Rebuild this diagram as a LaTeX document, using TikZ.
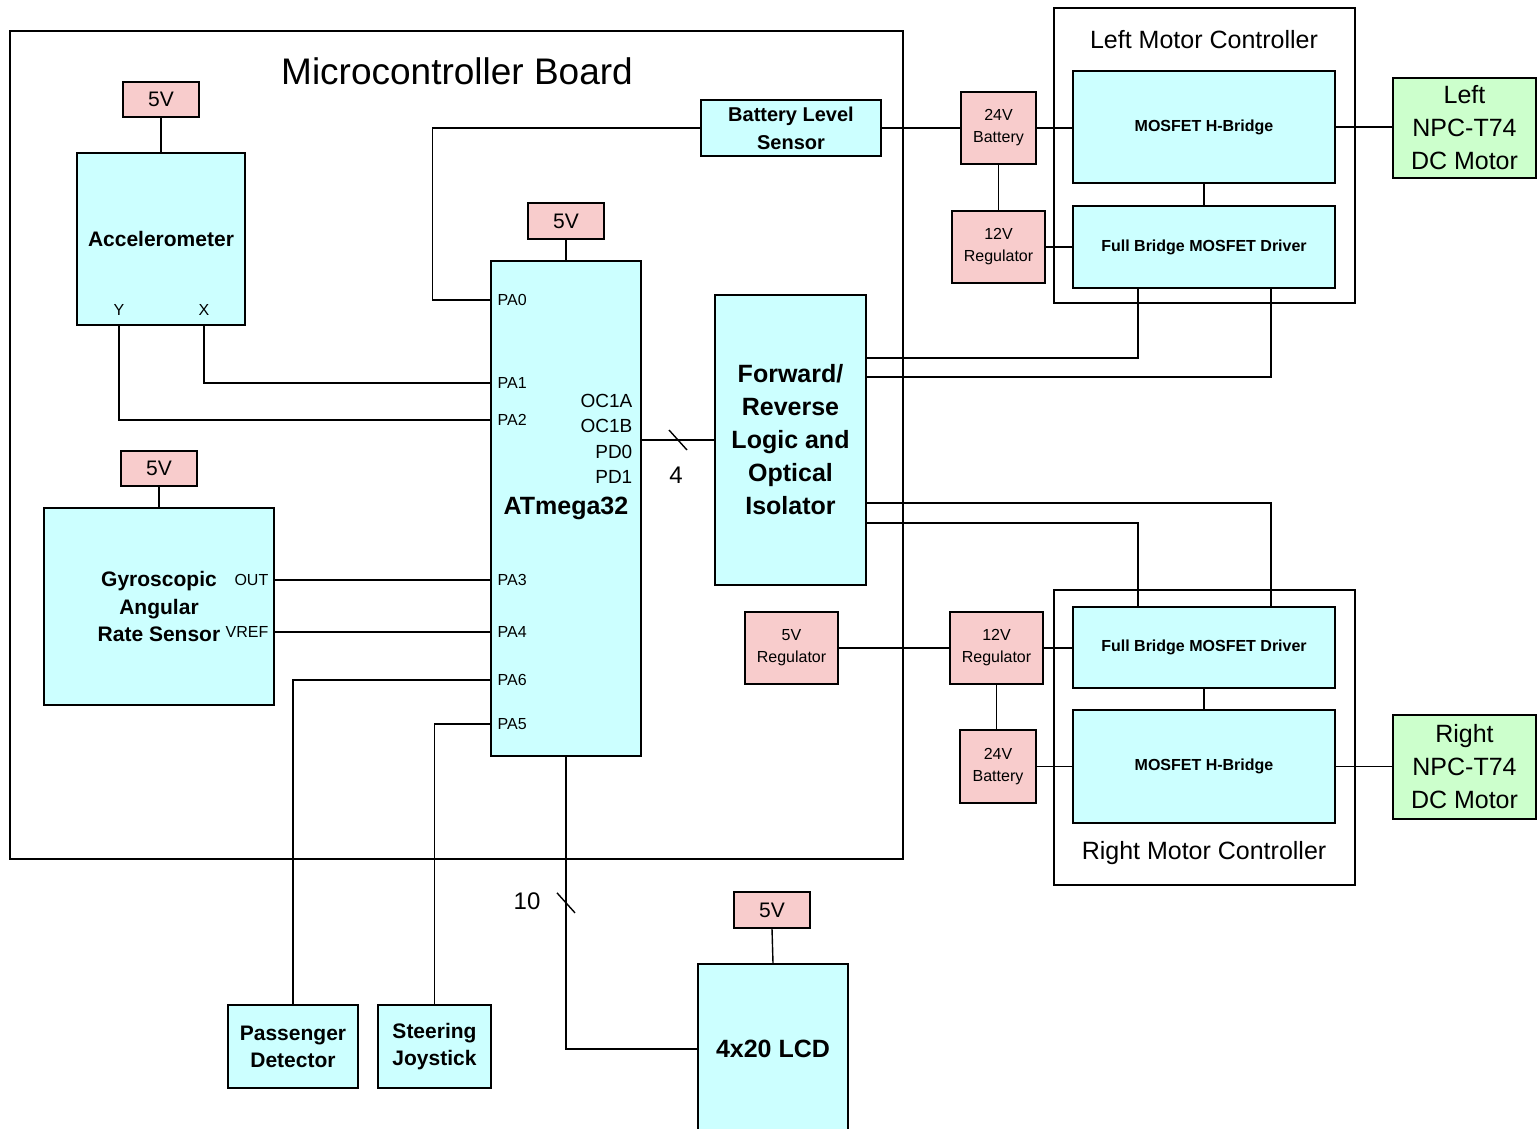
\documentclass[tikz,border=0pt]{standalone}
\usepackage{fontspec}
\setmainfont{Liberation Sans}
\definecolor{boxcyan}{HTML}{CCFFFF}
\definecolor{boxpink}{HTML}{F8CCCC}
\definecolor{boxgreen}{HTML}{CCFFCC}
\newcommand{\fsz}[2]{\fontsize{#1}{#2}\selectfont}

\begin{document}
\begin{tikzpicture}[x=1pt,y=-1pt,line width=1.4pt,
    framebox/.style={draw,inner sep=0pt},
    blk/.style={draw,fill=boxcyan,inner sep=0pt,align=center,font=\bfseries},
    pwr/.style={draw,fill=boxpink,inner sep=0pt,align=center,font=\fsz{16}{22}},
    mot/.style={draw,fill=boxgreen,inner sep=0pt,align=center,font=\fsz{25}{33}},
    pinlbl/.style={inner sep=0pt,font=\fsz{16}{18}}]
    \useasboundingbox (0,0) rectangle (1538,1128);
    \clip (0,0) rectangle (1538,1128);
    \node[framebox,minimum width=893pt,minimum height=828pt] (board) at (456.5,445) {};
    \node[font=\fsz{37}{40}] (boardtitle) at (457,71) {Microcontroller Board};
    \node[framebox,minimum width=301pt,minimum height=295pt] (lmcbox) at (1204.5,155.5) {};
    \node[font=\fsz{25}{28}] (lmctitle) at (1204,40) {Left Motor Controller};
    \node[framebox,minimum width=301pt,minimum height=295pt] (rmcbox) at (1204.5,737.5) {};
    \node[font=\fsz{25}{28}] (rmctitle) at (1204,853) {Right Motor Controller};

    \node[pwr,font=\fsz{21}{24},minimum width=76pt,minimum height=35pt] (acc5v) at (161,99.5) {5V};
    \node[blk,font=\bfseries\fsz{21}{27},minimum width=168pt,minimum height=172pt] (acc) at (161,239) {Accelerometer};
    \node[pinlbl] (ypin) at (119,310) {Y};
    \node[pinlbl] (xpin) at (204,310) {X};
    \node[blk,font=\bfseries\fsz{20}{28},minimum width=180pt,minimum height=56pt] (bls) at (791,128) {Battery Level\\Sensor};

    \node[pwr,font=\fsz{21}{24},minimum width=76pt,minimum height=36pt] (mcu5v) at (566,221) {5V};
    \node[blk,font=\bfseries\fsz{25}{30},minimum width=150pt,minimum height=495pt] (mcu) at (566,508.5) {ATmega32};
    \foreach \p/\y in {PA0/300,PA1/383,PA2/420,PA3/580,PA4/632,PA6/680,PA5/724}
    \node[pinlbl,anchor=west] (\p) at (497,\y) {\p};
    \node[pinlbl,font=\fsz{19}{25.3},align=right,anchor=east] (ocpins) at (633,439) {OC1A\\OC1B\\PD0\\PD1};
    \node[blk,font=\bfseries\fsz{25}{33},minimum width=151pt,minimum height=290pt] (fwd) at (790.5,440) {Forward/\\Reverse\\Logic and\\Optical\\Isolator};

    \node[blk,font=\bfseries\fsz{16}{18},minimum width=262pt,minimum height=112pt] (lhb) at (1204,127) {MOSFET H-Bridge};
    \node[blk,font=\bfseries\fsz{16}{18},minimum width=262pt,minimum height=82pt] (ldrv) at (1204,247) {Full Bridge MOSFET Driver};
    \node[pwr,minimum width=75pt,minimum height=72pt] (lbat) at (998.5,128) {24V\\Battery};
    \node[pwr,minimum width=93pt,minimum height=72pt] (lreg) at (998.5,247) {12V\\Regulator};
    \node[mot,minimum width=143pt,minimum height=100pt] (lmot) at (1464.5,128) {Left\\NPC-T74\\DC Motor};

    \node[blk,font=\bfseries\fsz{16}{18},minimum width=262pt,minimum height=81pt] (rdrv) at (1204,647.5) {Full Bridge MOSFET Driver};
    \node[blk,font=\bfseries\fsz{16}{18},minimum width=262pt,minimum height=113pt] (rhb) at (1204,766.5) {MOSFET H-Bridge};
    \node[pwr,minimum width=93pt,minimum height=72pt] (rreg) at (996.5,648) {12V\\Regulator};
    \node[pwr,minimum width=76pt,minimum height=73pt] (rbat) at (998,766.5) {24V\\Battery};
    \node[pwr,minimum width=93pt,minimum height=72pt] (reg5) at (791.5,648) {5V\\Regulator};
    \node[mot,minimum width=143pt,minimum height=104pt] (rmot) at (1464.5,767) {Right\\NPC-T74\\DC Motor};

    \node[pwr,font=\fsz{21}{24},minimum width=76pt,minimum height=35pt] (gyro5v) at (159,468.5) {5V};
    \node[blk,font=\bfseries\fsz{21}{27.5},minimum width=230pt,minimum height=197pt] (gyro) at (159,606.5) {Gyroscopic\\Angular\\Rate Sensor};
    \node[pinlbl,anchor=east] (gout) at (269,580) {OUT};
    \node[pinlbl,anchor=east] (gvref) at (269,632) {VREF};

    \node[blk,font=\bfseries\fsz{21}{27},minimum width=130pt,minimum height=83pt] (pass) at (293,1046.5) {Passenger\\Detector};
    \node[blk,font=\bfseries\fsz{21}{27},minimum width=113pt,minimum height=83pt] (steer) at (434.5,1046.5) {Steering\\Joystick};
    \node[pwr,font=\fsz{21}{24},minimum width=76pt,minimum height=36pt] (lcd5v) at (772,910) {5V};
    \node[blk,font=\bfseries\fsz{25}{30},minimum width=150pt,minimum height=170pt] (lcd) at (773,1049) {4x20 LCD};

    \draw (acc5v.south) -- (acc.north);
    \draw (acc.south -| ypin) |- (mcu.west |- PA2);
    \draw (acc.south -| xpin) |- (mcu.west |- PA1);
    \draw (bls.west) -- ++(-268,0) |- (mcu.west |- PA0);
    \draw (bls.east) -- (lbat.west);
    \draw (mcu5v.south) -- (mcu.north);
    \draw (mcu.east |- fwd.west) -- (fwd.west) coordinate[midway] (s4);
    \draw ([shift={(-9,-10)}]s4) -- ([shift={(9,10)}]s4);
    \node[font=\fsz{24}{26}] (lbl4) at ([shift={(-2,35)}]s4) {4};
    \draw ([yshift=82pt]fwd.east) -| ([xshift=-66pt]ldrv.south);
    \draw ([yshift=63pt]fwd.east) -| ([xshift=67pt]ldrv.south);
    \draw ([yshift=-63pt]fwd.east) -| ([xshift=67pt]rdrv.north);
    \draw ([yshift=-83pt]fwd.east) -| ([xshift=-66pt]rdrv.north);
    \draw (lbat.east) -- (lhb.west |- lbat.east);
    \draw (lbat.south) -- (lreg.north);
    \draw (lreg.east) -- (ldrv.west |- lreg.east);
    \draw (lhb.south) -- (ldrv.north);
    \draw (lhb.east) -- (lmot.west |- lhb.east);
    \draw (rdrv.south) -- (rhb.north);
    \draw (reg5.east) -- (rreg.west);
    \draw (rreg.east) -- (rdrv.west |- rreg.east);
    \draw (rreg.south) -- (rreg.south |- rbat.north);
    \draw (rbat.east) -- (rhb.west |- rbat.east);
    \draw (rhb.east) -- (rmot.west |- rhb.east);
    \draw (gyro5v.south) -- (gyro.north);
    \draw (gyro.east |- gout) -- (mcu.west |- PA3);
    \draw (gyro.east |- gvref) -- (mcu.west |- PA4);
    \draw (mcu.west |- PA6) -| (pass.north);
    \draw (mcu.west |- PA5) -| (steer.north);
    \draw (lcd5v.south) -- (lcd.north);
    \draw (mcu.south) |- (lcd.west) coordinate[pos=0.25] (s10);
    \draw ([shift={(-9,-10)}]s10) -- ([shift={(9,10)}]s10);
    \node[font=\fsz{24}{26}] (lbl10) at ([shift={(-39,-2)}]s10) {10};
\end{tikzpicture}
\end{document}
